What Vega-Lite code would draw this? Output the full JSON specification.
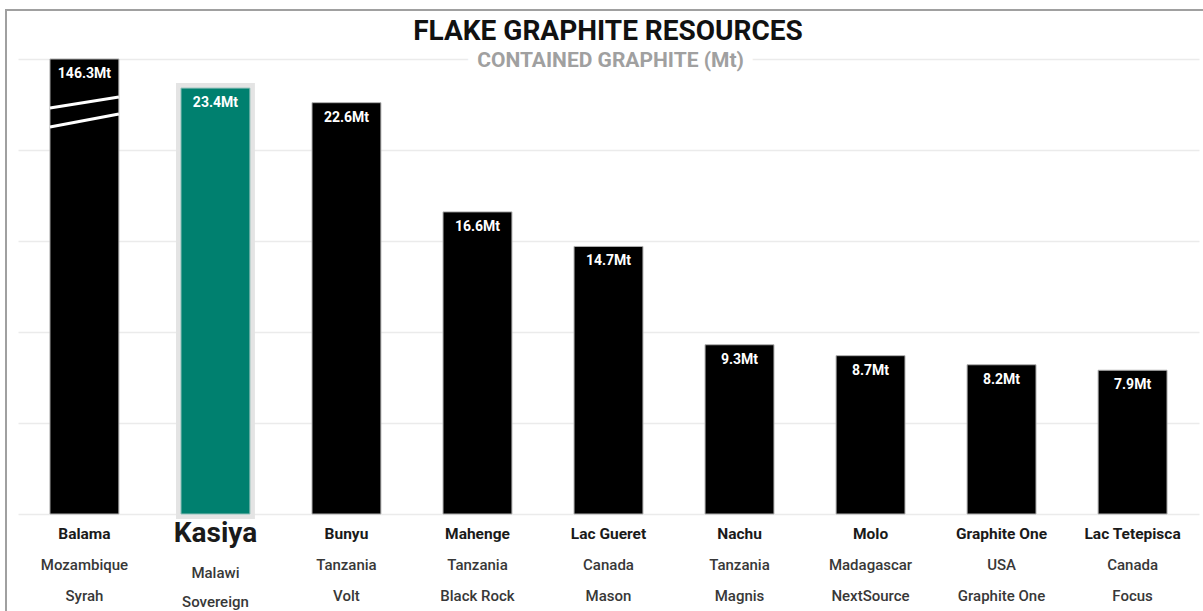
{
  "$schema": "https://vega.github.io/schema/vega-lite/v6.json",
  "width": 1200,
  "height": 603,
  "autosize": "none",
  "padding": {"left": 6, "top": 10, "right": 0, "bottom": 0},
  "background": "white",
  "title": {"text": "FLAKE GRAPHITE RESOURCES", "font": "Roboto", "fontSize": 28, "fontWeight": "bold", "color": "#111111", "anchor": "middle", "frame": "group", "baseline": "alphabetic", "offset": -58, "dx": 2},
  "config": {"view": {"stroke": "#a0a0a0", "strokeWidth": 2}, "font": "Roboto"},
  "datasets": {
    "mines": [
      {"name": "Balama", "country": "Mozambique", "company": "Syrah", "value": 146.3, "label": "146.3Mt"},
      {"name": "Kasiya", "country": "Malawi", "company": "Sovereign", "value": 23.4, "label": "23.4Mt"},
      {"name": "Bunyu", "country": "Tanzania", "company": "Volt", "value": 22.6, "label": "22.6Mt"},
      {"name": "Mahenge", "country": "Tanzania", "company": "Black Rock", "value": 16.6, "label": "16.6Mt"},
      {"name": "Lac Gueret", "country": "Canada", "company": "Mason", "value": 14.7, "label": "14.7Mt"},
      {"name": "Nachu", "country": "Tanzania", "company": "Magnis", "value": 9.3, "label": "9.3Mt"},
      {"name": "Molo", "country": "Madagascar", "company": "NextSource", "value": 8.7, "label": "8.7Mt"},
      {"name": "Graphite One", "country": "USA", "company": "Graphite One", "value": 8.2, "label": "8.2Mt"},
      {"name": "Lac Tetepisca", "country": "Canada", "company": "Focus", "value": 7.9, "label": "7.9Mt"}
    ],
    "breaks": [
      {"name": "Balama", "y1": 22.31, "y2": 22.91},
      {"name": "Balama", "y1": 21.26, "y2": 21.98}
    ],
    "sub": [{"t": "CONTAINED GRAPHITE (Mt)"}]
  },
  "data": {"name": "mines"},
  "layer": [
    {
      "transform": [{"filter": "datum.name === 'Kasiya'"}],
      "mark": {"type": "bar", "color": "#00806f", "stroke": "#e4e4e4", "strokeWidth": 10},
      "encoding": {
        "x": {"field": "name", "type": "nominal", "sort": null,
              "scale": {"domain": ["Balama", "Kasiya", "Bunyu", "Mahenge", "Lac Gueret", "Nachu", "Molo", "Graphite One", "Lac Tetepisca"], "range": [12, 1193], "paddingInner": 0.474, "paddingOuter": 0.244},
              "axis": null},
        "y": {"field": "value", "type": "quantitative",
              "scale": {"domain": [0, 25], "range": [504, 49], "clamp": true, "nice": false, "zero": true},
              "axis": {"values": [0, 5, 10, 15, 20, 25], "grid": true, "gridColor": "#ebebeb", "gridWidth": 1.5, "labels": false, "ticks": false, "domain": false, "title": null}}
      }
    },
    {
      "mark": {"type": "bar"},
      "encoding": {
        "x": {"field": "name", "type": "nominal", "sort": null},
        "y": {"field": "value", "type": "quantitative"},
        "color": {"condition": {"test": "datum.name === 'Kasiya'", "value": "#00806f"}, "value": "#000000"},
        "stroke": {"condition": {"test": "datum.name === 'Kasiya'", "value": "#8fbfb9"}, "value": "#b0b0b0"},
        "strokeWidth": {"value": 1}
      }
    },
    {
      "data": {"name": "breaks"},
      "mark": {"type": "rule", "color": "white", "strokeWidth": 3},
      "encoding": {
        "x": {"field": "name", "type": "nominal", "sort": null, "bandPosition": 0},
        "x2": {"field": "name", "bandPosition": 1},
        "y": {"field": "y1", "type": "quantitative"},
        "y2": {"field": "y2"}
      }
    },
    {
      "mark": {"type": "text", "baseline": "top", "dy": 8, "color": "white", "fontSize": 14, "fontWeight": "bold", "font": "Roboto"},
      "encoding": {
        "x": {"field": "name", "type": "nominal", "sort": null},
        "y": {"field": "value", "type": "quantitative"},
        "text": {"field": "label"}
      }
    },
    {
      "mark": {"type": "text", "baseline": "middle", "dy": 20, "color": "#1a1a1a", "fontWeight": "bold", "font": "Roboto"},
      "encoding": {
        "x": {"field": "name", "type": "nominal", "sort": null},
        "y": {"datum": 0},
        "text": {"field": "name"},
        "size": {"condition": {"test": "datum.name === 'Kasiya'", "value": 28}, "value": 15.5}
      }
    },
    {
      "transform": [{"filter": "datum.name !== 'Kasiya'"}],
      "mark": {"type": "text", "baseline": "middle", "dy": 51, "color": "#383838", "fontSize": 15, "fontWeight": 500, "font": "Roboto"},
      "encoding": {
        "x": {"field": "name", "type": "nominal", "sort": null},
        "y": {"datum": 0},
        "text": {"field": "country"}
      }
    },
    {
      "transform": [{"filter": "datum.name !== 'Kasiya'"}],
      "mark": {"type": "text", "baseline": "middle", "dy": 82, "color": "#383838", "fontSize": 15, "fontWeight": 500, "font": "Roboto"},
      "encoding": {
        "x": {"field": "name", "type": "nominal", "sort": null},
        "y": {"datum": 0},
        "text": {"field": "company"}
      }
    },
    {
      "transform": [{"filter": "datum.name === 'Kasiya'"}],
      "mark": {"type": "text", "baseline": "middle", "dy": 59, "color": "#383838", "fontSize": 15, "fontWeight": 500, "font": "Roboto"},
      "encoding": {
        "x": {"field": "name", "type": "nominal", "sort": null},
        "y": {"datum": 0},
        "text": {"field": "country"}
      }
    },
    {
      "transform": [{"filter": "datum.name === 'Kasiya'"}],
      "mark": {"type": "text", "baseline": "middle", "dy": 88, "color": "#383838", "fontSize": 15, "fontWeight": 500, "font": "Roboto"},
      "encoding": {
        "x": {"field": "name", "type": "nominal", "sort": null},
        "y": {"datum": 0},
        "text": {"field": "company"}
      }
    },
    {
      "data": {"name": "sub"},
      "mark": {"type": "text", "baseline": "middle", "dy": 2, "color": "white", "stroke": "white", "strokeWidth": 20, "fontSize": 21, "fontWeight": "bold", "font": "Roboto"},
      "encoding": {
        "x": {"datum": "Lac Gueret", "bandPosition": 0.53},
        "y": {"datum": 25},
        "text": {"field": "t"}
      }
    },
    {
      "data": {"name": "sub"},
      "mark": {"type": "text", "baseline": "middle", "dy": 2, "color": "#a0a0a0", "fontSize": 21, "fontWeight": "bold", "font": "Roboto"},
      "encoding": {
        "x": {"datum": "Lac Gueret", "bandPosition": 0.53},
        "y": {"datum": 25},
        "text": {"field": "t"}
      }
    }
  ]
}
